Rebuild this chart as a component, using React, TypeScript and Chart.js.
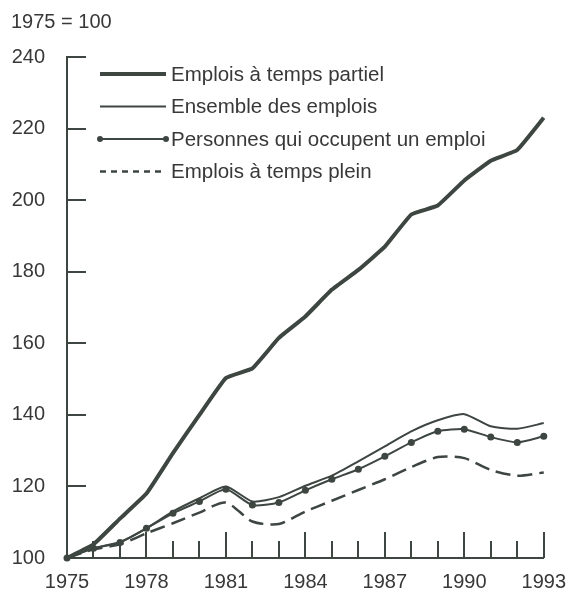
import React, { useEffect, useRef } from 'react';
import { Chart, registerables } from 'chart.js';

Chart.register(...registerables);

// ---- Data ----
const years = [1975, 1976, 1977, 1978, 1979, 1980, 1981, 1982, 1983, 1984, 1985, 1986, 1987, 1988, 1989, 1990, 1991, 1992, 1993];
const partTime = [100, 103.8, 111, 118, 129.3, 140, 150.3, 153, 161.5, 167.5, 175, 180.5, 187, 196, 198.5, 205.5, 211, 214, 223];
const ensemble = [100, 102.7, 104.5, 108.3, 113, 116.7, 120, 115.8, 117, 120.2, 123, 127, 131.2, 135.4, 138.5, 140.2, 136.8, 136.1, 137.7];
const personnes = [100, 102.7, 104.3, 108.3, 112.5, 115.8, 119.2, 114.8, 115.5, 118.9, 122, 124.8, 128.4, 132.3, 135.4, 136, 133.8, 132.3, 134];
const fullTime = [100, 102.4, 103.8, 106.9, 109.7, 112.7, 115.5, 110.2, 109.5, 113, 116, 119, 122, 125.4, 128.2, 127.9, 124.6, 123, 123.9];
const seriesLabels = [
  'Emplois à temps partiel',
  'Ensemble des emplois',
  'Personnes qui occupent un emploi',
  'Emplois à temps plein',
];
const indexLabel = '1975 = 100';
const yMin = 100;
const yMax = 240;
const yStep = 20;
const xLabelStep = 3;

// ---- Styles ----
const INK = '#3e4642';
const TEXT = '#383838';
const FONT = '"Liberation Sans", Arial, Helvetica, sans-serif';

const toPoints = (vals: number[]) => years.map((x, i) => ({ x, y: vals[i] }));

const decorPlugin = {
  id: 'decor',
  beforeDatasetsDraw(chart: any) {
    const { ctx, chartArea, scales } = chart;
    const xs = scales.x;
    const ys = scales.y;
    ctx.save();
    ctx.strokeStyle = INK;
    ctx.lineWidth = 2;
    ctx.lineCap = 'butt';
    // y ticks pointing inward
    ys.ticks.forEach((t: any) => {
      if (t.value === yMin) return;
      const py = Math.round(ys.getPixelForValue(t.value));
      ctx.beginPath();
      ctx.moveTo(chartArea.left, py);
      ctx.lineTo(chartArea.left + 19, py);
      ctx.stroke();
    });
    // x ticks pointing upward, every year, longer every 3 years
    years.forEach((yr) => {
      if (yr === years[0]) return;
      const px = Math.round(xs.getPixelForValue(yr));
      const major = (yr - years[0]) % xLabelStep === 0;
      ctx.beginPath();
      ctx.moveTo(px, chartArea.bottom);
      ctx.lineTo(px, chartArea.bottom - (major ? 26 : 17));
      ctx.stroke();
    });
    ctx.restore();
  },
  afterDraw(chart: any) {
    const { ctx, chartArea } = chart;
    ctx.save();
    // index label
    ctx.fillStyle = TEXT;
    ctx.font = `20px ${FONT}`;
    ctx.textBaseline = 'middle';
    ctx.textAlign = 'left';
    ctx.fillText(indexLabel, 11, 22);

    // legend
    const x0 = chartArea.left + 33;
    const x1 = chartArea.left + 99;
    const tx = chartArea.left + 104;
    const top = chartArea.top + 17;
    const gap = 32.5;
    ctx.font = `20.5px ${FONT}`;
    chart.data.datasets.forEach((ds: any, i: number) => {
      const y = top + i * gap;
      ctx.strokeStyle = ds.borderColor;
      ctx.lineWidth = ds.borderWidth;
      ctx.setLineDash(ds.borderDash && ds.borderDash.length ? [6, 5] : []);
      ctx.beginPath();
      ctx.moveTo(x0, y);
      ctx.lineTo(x1, y);
      ctx.stroke();
      ctx.setLineDash([]);
      if (ds.pointRadius > 0) {
        ctx.fillStyle = ds.pointBackgroundColor;
        [x0, x1].forEach((px) => {
          ctx.beginPath();
          ctx.arc(px, y, ds.pointRadius - 0.5, 0, Math.PI * 2);
          ctx.fill();
        });
      }
      ctx.fillStyle = TEXT;
      ctx.fillText(ds.label, tx, y + 1);
    });
    ctx.restore();
  },
};

export default function App() {
  const ref = useRef<HTMLCanvasElement | null>(null);

  useEffect(() => {
    if (!ref.current) return;
    Chart.defaults.font.family = FONT;
    const chart = new Chart(ref.current, {
      type: 'line',
      data: {
        datasets: [
          {
            label: seriesLabels[0],
            data: toPoints(partTime),
            borderColor: INK,
            backgroundColor: INK,
            borderWidth: 4,
            pointRadius: 0,
            tension: 0.1,
            clip: false as any,
          },
          {
            label: seriesLabels[1],
            data: toPoints(ensemble),
            borderColor: INK,
            backgroundColor: INK,
            borderWidth: 2,
            pointRadius: 0,
            tension: 0.2,
            clip: false as any,
          },
          {
            label: seriesLabels[2],
            data: toPoints(personnes),
            borderColor: INK,
            backgroundColor: INK,
            pointBackgroundColor: INK,
            pointBorderColor: INK,
            borderWidth: 2,
            pointRadius: 3.5,
            pointBorderWidth: 0,
            tension: 0.2,
            clip: false as any,
          },
          {
            label: seriesLabels[3],
            data: toPoints(fullTime),
            borderColor: INK,
            backgroundColor: INK,
            borderWidth: 2.5,
            borderDash: [15, 7],
            pointRadius: 0,
            tension: 0.25,
            clip: false as any,
          },
        ],
      },
      options: {
        responsive: false,
        animation: false,
        layout: { padding: { left: 0, top: 57, right: 23, bottom: 0 } },
        plugins: {
          legend: { display: false },
          tooltip: { enabled: false },
          title: { display: false },
        },
        scales: {
          x: {
            type: 'linear',
            min: years[0],
            max: years[years.length - 1],
            grid: { display: false, drawTicks: false },
            border: { display: true, color: INK, width: 2 },
            ticks: {
              stepSize: xLabelStep,
              padding: 12,
              color: TEXT,
              font: { size: 20 },
              maxRotation: 0,
              autoSkip: false,
              callback: (v: any) => String(v),
            },
            afterFit: (s: any) => {
              s.height = 35;
            },
          },
          y: {
            type: 'linear',
            min: yMin,
            max: yMax,
            grid: { display: false, drawTicks: false },
            border: { display: true, color: INK, width: 2 },
            ticks: {
              stepSize: yStep,
              padding: 22,
              color: TEXT,
              font: { size: 20 },
              callback: (v: any) => String(v),
            },
            afterFit: (s: any) => {
              s.width = 67;
            },
          },
        },
      },
      plugins: [decorPlugin],
    });
    return () => chart.destroy();
  }, []);

  return (
    <div style={{ position: 'fixed', left: 0, top: 0, width: 578, height: 593, background: '#fff' }}>
      <canvas ref={ref} width={578} height={593} style={{ display: 'block', width: 578, height: 593 }} />
    </div>
  );
}
